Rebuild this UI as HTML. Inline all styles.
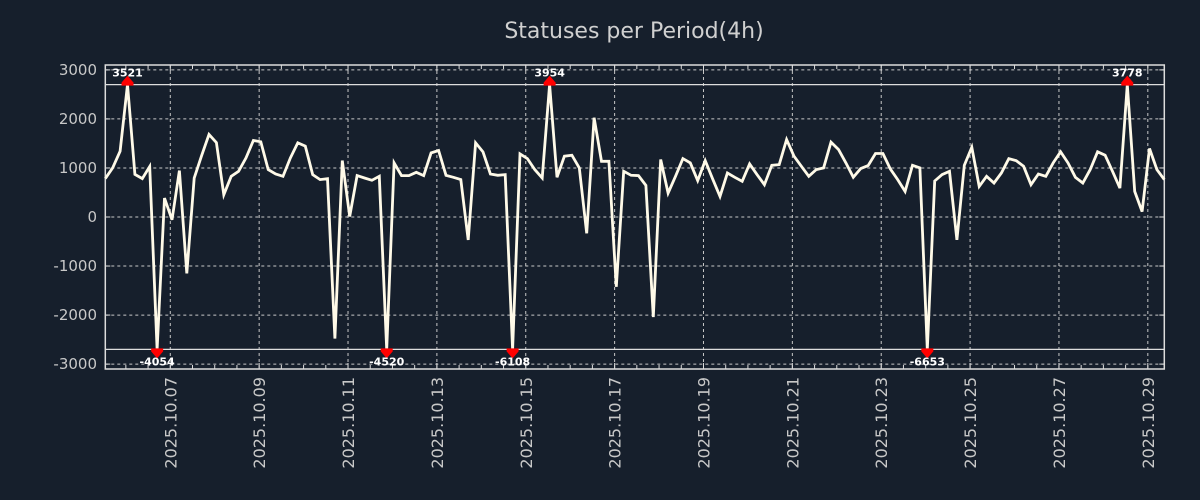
<!DOCTYPE html>
<html><head><meta charset="utf-8"><style>
html,body{margin:0;padding:0;background:#161f2c;}
svg{display:block;font-family:"DejaVu Sans","Liberation Sans",sans-serif;}
</style></head><body>
<svg id="chart" width="1200" height="500" xmlns="http://www.w3.org/2000/svg">
<rect width="1200" height="500" fill="#161f2c"/>
<text x="634" y="38" text-anchor="middle" font-size="22" fill="#d0d0d0">Statuses per Period(4h)</text>
<g id="grid"></g><g id="axes"></g><g id="series"></g><g id="marks"></g>
</svg>
<script>
const values = [783,1003,1342,3521,868,783,1030,-4054,386,-58,946,-1151,795,1250,1684,1517,454,830,932,1206,1561,1533,966,877,830,1206,1513,1445,864,762,782,-2480,1151,10,844,795,748,830,
-4520,1103,844,844,911,844,1308,1357,851,810,762,-468,1513,1328,877,851,864,-6108,1287,1192,966,795,3954,810,1240,1260,1001,-332,2025,1137,1137,-1424,932,851,844,645,
-2039,1172,488,830,1192,1103,742,1151,780,420,898,810,728,1082,864,659,1055,1069,1581,1240,1035,830,966,1001,1527,1377,1103,810,988,1049,1295,1295,982,762,522,1055,1001,
-6653,734,864,932,-468,1055,1424,625,830,693,898,1192,1151,1035,659,877,830,1103,1329,1103,810,693,966,1329,1260,932,590,3778,522,111,1397,966,762];
const yTicks = [3000,2000,1000,0,-1000,-2000,-3000];
const xTickLabels = ["2025.10.07","2025.10.09","2025.10.11","2025.10.13","2025.10.15","2025.10.17","2025.10.19","2025.10.21","2025.10.23","2025.10.25","2025.10.27","2025.10.29"];
const clipLimits = [2700,-2700];
const startHour = -35.1; // hours relative to 2025.10.07 00:00
const stepHours = 4;

const L=105.3,R=1164.3,T=65,B=369,yMin=-3100,yMax=3100;
const pxPerHour=(R-L)/((values.length-1)*stepHours);
const xH=h=>L+(h-startHour)*pxPerHour;
const xi=i=>xH(startHour+i*stepHours);
const y=v=>B-(v-yMin)/(yMax-yMin)*(B-T);
const NS="http://www.w3.org/2000/svg";
function mk(tag,attrs,parent){const e=document.createElementNS(NS,tag);for(const k in attrs)e.setAttribute(k,attrs[k]);parent.appendChild(e);return e;}
const grid=document.getElementById('grid'),axes=document.getElementById('axes'),series=document.getElementById('series'),marks=document.getElementById('marks');

yTicks.forEach(v=>{
  const g=mk('line',{x1:L,x2:R,y1:y(v),y2:y(v),stroke:'#c8c8c8','stroke-width':1,'stroke-dasharray':'3,3'},grid);
  
  
  const t=mk('line',{x1:L,x2:L+5,y1:y(v),y2:y(v),stroke:'#ddd'},axes);
  
  
  const t2=mk('line',{x1:R-5,x2:R,y1:y(v),y2:y(v),stroke:'#ddd'},axes);
  
  
  const lb=mk('text',{x:97,y:y(v)+5,'text-anchor':'end','font-size':15,fill:'#c8c8c8'},axes);
  lb.textContent=String(v);
  
  
});
for(let h=-24;h<=552;h+=12){
  const x=xH(h); if(x<L||x>R) continue;
  const major=(h%48===0);
  const len=major?6:4;
  const a=mk('line',{x1:x,x2:x,y1:B,y2:B-len,stroke:'#ddd'},axes);
  
  
  const b=mk('line',{x1:x,x2:x,y1:T,y2:T+len,stroke:'#ddd'},axes);
  
  
}
xTickLabels.forEach((s,k)=>{
  const x=xH(k*48);
  const g=mk('line',{x1:x,x2:x,y1:T,y2:B,stroke:'#c8c8c8','stroke-width':1,'stroke-dasharray':'3,3'},grid);
  
  
  const lb=mk('text',{x:0,y:0,'text-anchor':'end','font-size':16,fill:'#c8c8c8',transform:`translate(${x+6},377) rotate(-90)`},axes);
  lb.textContent=s;
  
  
});
clipLimits.forEach(c=>{
  const l=mk('line',{x1:L,x2:R,y1:y(c),y2:y(c),stroke:'#dddddd','stroke-width':1.2},grid);
  
  
});
const frame=mk('rect',{x:L,y:T,width:R-L,height:B-T,fill:'none',stroke:'#dddddd','stroke-width':1.5},axes);



const clamp=v=>Math.max(clipLimits[1],Math.min(clipLimits[0],v));
const pts=values.map((v,i)=>xi(i).toFixed(1)+','+y(clamp(v)).toFixed(1)).join(' ');
const line=mk('polyline',{points:pts,fill:'none',stroke:'#fffae8','stroke-width':2.8,'stroke-linejoin':'miter'},series);



values.forEach((v,i)=>{
  if(v>clipLimits[0]){
    const x=xi(i),yy=y(clipLimits[0]);
    const m=mk('polygon',{points:`${x-6},${yy+1} ${x+6},${yy+1} ${x+6},${yy-2} ${x},${yy-9} ${x-6},${yy-2}`,fill:'#ff0000'},marks);
    
    
    const t=mk('text',{x:x,y:yy-8,'text-anchor':'middle','font-size':11,'font-weight':'bold',fill:'#ffffff'},marks);
    t.textContent=String(v);
    
    
  } else if(v<clipLimits[1]){
    const x=xi(i),yy=y(clipLimits[1]);
    const m=mk('polygon',{points:`${x-6},${yy-1} ${x+6},${yy-1} ${x+6},${yy+2} ${x},${yy+9} ${x-6},${yy+2}`,fill:'#ff0000'},marks);
    
    
    const t=mk('text',{x:x,y:yy+16,'text-anchor':'middle','font-size':11,'font-weight':'bold',fill:'#ffffff'},marks);
    t.textContent=String(v);
    
    
  }
});
</script>
</body></html>
